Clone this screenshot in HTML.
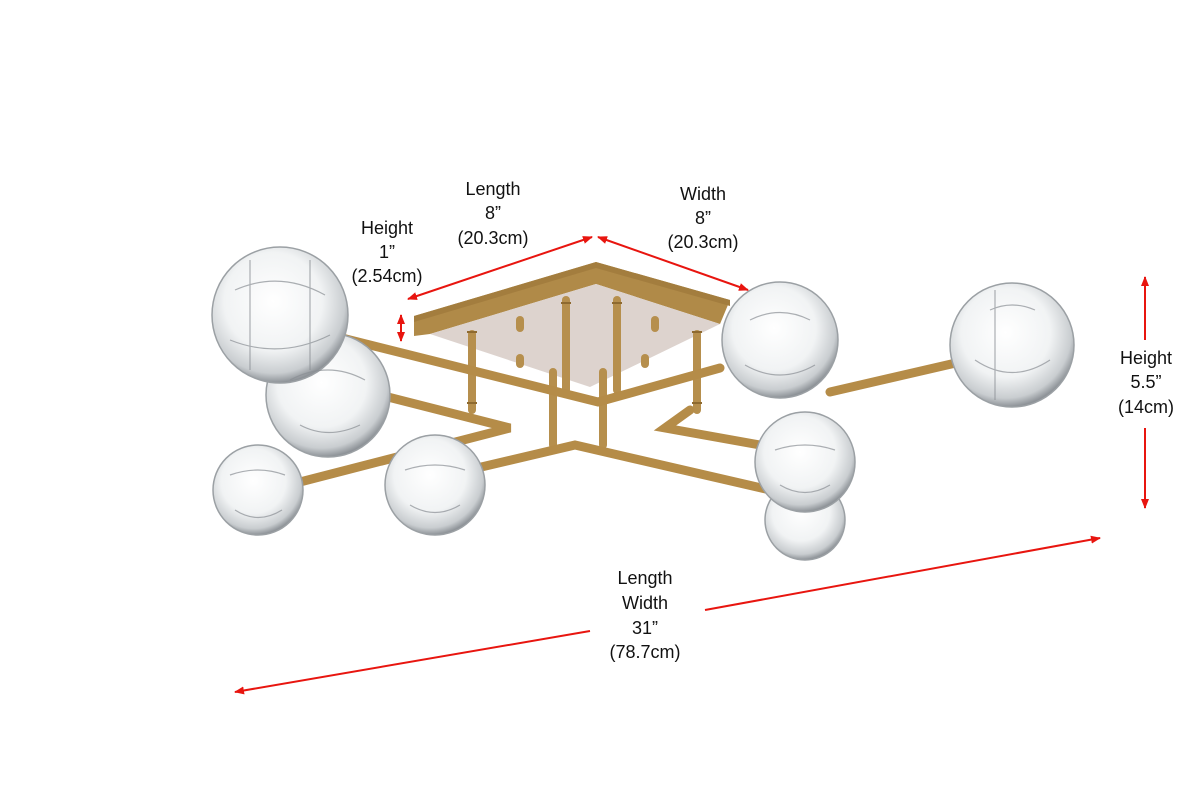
<!DOCTYPE html>
<html><head><meta charset="utf-8"><style>
html,body{margin:0;padding:0;background:#fff;}
svg{display:block}
text{font-family:"Liberation Sans",sans-serif;font-size:18px;fill:#111;text-anchor:middle}
</style></head><body>
<svg width="1200" height="800" viewBox="0 0 1200 800" xmlns="http://www.w3.org/2000/svg">
<defs>
<marker id="ah" markerWidth="10" markerHeight="8" refX="9" refY="4" orient="auto-start-reverse" markerUnits="userSpaceOnUse">
<path d="M0,0 L10,4 L0,8 z" fill="#e8150f"/></marker>
<radialGradient id="gl" cx="45%" cy="40%" r="60%">
<stop offset="0" stop-color="#ffffff"/><stop offset="0.6" stop-color="#f1f3f4"/><stop offset="0.88" stop-color="#c9cdd0"/><stop offset="1" stop-color="#8d9297"/></radialGradient>
<linearGradient id="br" x1="0" y1="0" x2="0" y2="1"><stop offset="0" stop-color="#d9b571"/><stop offset="1" stop-color="#8e6a30"/></linearGradient>
</defs>
<!-- plate -->
<polygon points="414,316 596,262 730,300 720,324 596,284 430,334 414,336" fill="#b08a48"/>
<polygon points="414,316 596,262 730,300 730,306 596,268 414,322" fill="#a37d3e"/>
<polygon points="430,334 596,284 720,324 590,387" fill="#ddd3ce"/>
<!-- rods -->
<g stroke="#b68f4d" stroke-width="8" stroke-linecap="round">
<line x1="472" y1="334" x2="472" y2="410"/>
<line x1="553" y1="372" x2="553" y2="445"/>
<line x1="566" y1="300" x2="566" y2="390"/>
<line x1="603" y1="372" x2="603" y2="445"/>
<line x1="617" y1="300" x2="617" y2="390"/>
<line x1="697" y1="334" x2="697" y2="410"/>
<line x1="520" y1="320" x2="520" y2="328"/><line x1="655" y1="320" x2="655" y2="328"/>
<line x1="520" y1="358" x2="520" y2="364"/><line x1="645" y1="358" x2="645" y2="364"/>
</g>
<g stroke="#8e6a30" stroke-width="2">
<line x1="467" y1="332" x2="477" y2="332"/><line x1="467" y1="403" x2="477" y2="403"/>
<line x1="561" y1="303" x2="571" y2="303"/><line x1="612" y1="303" x2="622" y2="303"/>
<line x1="692" y1="332" x2="702" y2="332"/><line x1="692" y1="403" x2="702" y2="403"/>
</g>
<!-- arms -->
<g stroke="#b58c48" stroke-width="9" stroke-linecap="round" fill="none">
<polyline points="330,335 598,402 720,368"/>
<polyline points="380,395 510,428 300,482"/>
<polyline points="460,472 575,445 770,490"/>
<polyline points="690,410 665,428 760,445"/>
<line x1="830" y1="392" x2="960" y2="362"/>
</g>
<!-- globes -->
<g stroke="#9ba0a4" stroke-width="1.5">
<circle cx="328" cy="395" r="62" fill="url(#gl)"/>
<circle cx="280" cy="315" r="68" fill="url(#gl)"/>
<circle cx="258" cy="490" r="45" fill="url(#gl)"/>
<circle cx="435" cy="485" r="50" fill="url(#gl)"/>
<circle cx="805" cy="520" r="40" fill="url(#gl)"/>
<circle cx="805" cy="462" r="50" fill="url(#gl)"/>
<circle cx="780" cy="340" r="58" fill="url(#gl)"/>
<circle cx="1012" cy="345" r="62" fill="url(#gl)"/>
</g>
<g stroke="#8a8f94" stroke-width="1.2" fill="none" opacity="0.7">
<path d="M235,290 Q280,270 325,295 M230,340 Q280,360 330,335 M250,260 L250,370 M310,260 L310,370"/>
<path d="M990,310 Q1012,300 1035,310 M975,360 Q1012,385 1050,360 M995,290 L995,400"/>
<path d="M750,320 Q780,305 810,320 M745,365 Q780,385 815,365"/>
<path d="M290,380 Q328,360 365,380 M300,425 Q328,440 360,425"/>
<path d="M230,475 Q258,465 285,475 M235,510 Q258,525 282,510"/>
<path d="M405,470 Q435,460 465,470 M410,505 Q435,520 460,505"/>
<path d="M775,450 Q805,440 835,450 M780,485 Q805,500 830,485"/>
</g>
<!-- arrows -->
<g stroke="#e8150f" stroke-width="2">
<line x1="408" y1="299" x2="592" y2="237" marker-start="url(#ah)" marker-end="url(#ah)"/>
<line x1="598" y1="237" x2="748" y2="290" marker-start="url(#ah)" marker-end="url(#ah)"/>
<line x1="401" y1="315" x2="401" y2="341" marker-start="url(#ah)" marker-end="url(#ah)"/>
<line x1="1145" y1="277" x2="1145" y2="340" marker-start="url(#ah)"/>
<line x1="1145" y1="428" x2="1145" y2="508" marker-end="url(#ah)"/>
<line x1="235" y1="692" x2="590" y2="631" marker-start="url(#ah)"/>
<line x1="705" y1="610" x2="1100" y2="538" marker-end="url(#ah)"/>
</g>
<!-- labels -->
<text x="493" y="195">Length</text><text x="493" y="219">8”</text><text x="493" y="244">(20.3cm)</text>
<text x="703" y="200">Width</text><text x="703" y="224">8”</text><text x="703" y="248">(20.3cm)</text>
<text x="387" y="234">Height</text><text x="387" y="258">1”</text><text x="387" y="282">(2.54cm)</text>
<text x="1146" y="364">Height</text><text x="1146" y="388">5.5”</text><text x="1146" y="413">(14cm)</text>
<text x="645" y="584">Length</text><text x="645" y="609">Width</text><text x="645" y="634">31”</text><text x="645" y="658">(78.7cm)</text>
</svg>
</body></html>
